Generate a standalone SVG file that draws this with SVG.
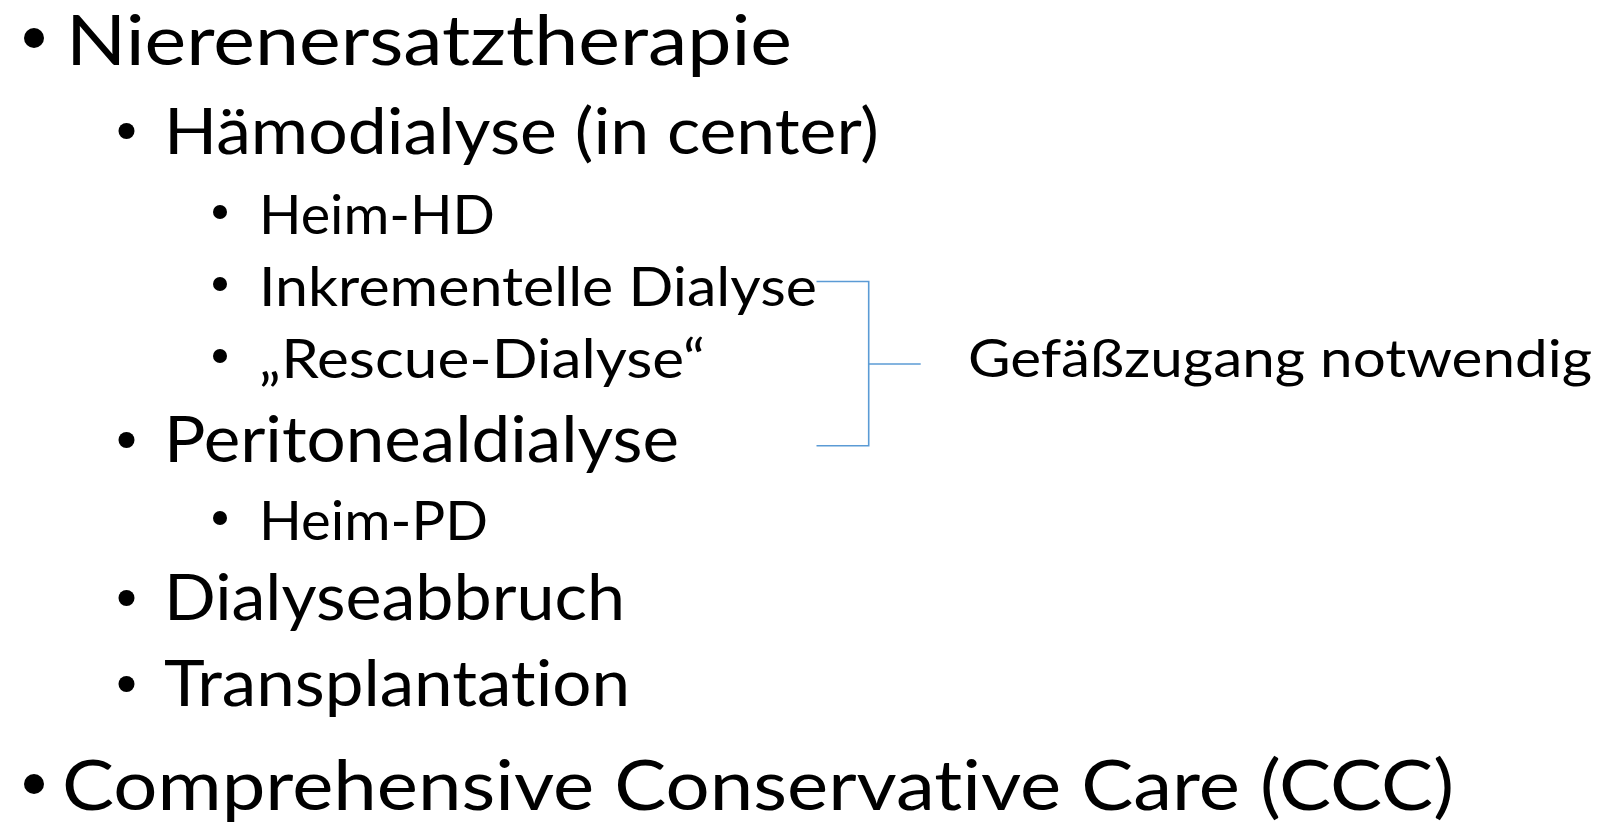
<svg xmlns="http://www.w3.org/2000/svg" width="1599" height="828" viewBox="0 0 1599 828">
  <style>
    text { font-family: Lato, "Noto Sans", "Liberation Sans", sans-serif; fill: #000; font-variant-ligatures: none; font-feature-settings: "liga" 0, "clig" 0; }
    .l1 { font-size: 69px; }
    .l2 { font-size: 63px; }
    .l3 { font-size: 55px; }
    .note { font-size: 52px; }
    .dot { fill: #000; }
    .brace { fill: none; stroke: #5B9BD5; stroke-width: 1.6; }
  </style>
  <rect width="1599" height="828" fill="#fff"/>

  <!-- top-level item -->
  <g id="item-nierenersatztherapie">
    <circle class="dot" cx="34" cy="38" r="10"/>
    <text class="l1" x="66" y="65" textLength="726" lengthAdjust="spacingAndGlyphs">Nierenersatztherapie</text>
  </g>

  <g id="item-haemodialyse">
    <circle class="dot" cx="126.5" cy="131" r="8"/>
    <text class="l2" x="164" y="154" textLength="715" lengthAdjust="spacingAndGlyphs">Hämodialyse (in center)</text>
  </g>

  <g id="item-heim-hd">
    <circle class="dot" cx="220" cy="212" r="7"/>
    <text class="l3" x="259" y="234" textLength="236" lengthAdjust="spacingAndGlyphs">Heim-HD</text>
  </g>

  <g id="item-inkrementelle">
    <circle class="dot" cx="220" cy="284" r="7"/>
    <text class="l3" x="259" y="306" textLength="558" lengthAdjust="spacingAndGlyphs">Inkrementelle Dialyse</text>
  </g>

  <g id="item-rescue">
    <circle class="dot" cx="220" cy="356" r="7"/>
    <text class="l3" x="259" y="378" textLength="446" lengthAdjust="spacingAndGlyphs">„Rescue-Dialyse“</text>
  </g>

  <g id="item-peritonealdialyse">
    <circle class="dot" cx="126.5" cy="440" r="8"/>
    <text class="l2" x="164" y="462" textLength="515" lengthAdjust="spacingAndGlyphs">Peritonealdialyse</text>
  </g>

  <g id="item-heim-pd">
    <circle class="dot" cx="220" cy="518" r="7"/>
    <text class="l3" x="259" y="540" textLength="229" lengthAdjust="spacingAndGlyphs">Heim-PD</text>
  </g>

  <g id="item-dialyseabbruch">
    <circle class="dot" cx="126.5" cy="598" r="8"/>
    <text class="l2" x="164" y="620" textLength="461" lengthAdjust="spacingAndGlyphs">Dialyseabbruch</text>
  </g>

  <g id="item-transplantation">
    <circle class="dot" cx="126.5" cy="684" r="8"/>
    <text class="l2" x="164" y="706" textLength="466" lengthAdjust="spacingAndGlyphs">Transplantation</text>
  </g>

  <g id="item-ccc">
    <circle class="dot" cx="34" cy="784" r="10"/>
    <text class="l1" x="62" y="810" textLength="1392" lengthAdjust="spacingAndGlyphs">Comprehensive Conservative Care (CCC)</text>
  </g>

  <g id="note-gefaesszugang">
    <text class="note" x="968" y="377" textLength="624" lengthAdjust="spacingAndGlyphs">Gefäßzugang notwendig</text>
  </g>

  <!-- bracket grouping the vascular-access items -->
  <g id="connectors">
    <path class="brace" d="M816.5 281.5 H868.7 V445.7 H816.5"/>
    <path class="brace" d="M868.7 364 H920.7"/>
  </g>
</svg>
